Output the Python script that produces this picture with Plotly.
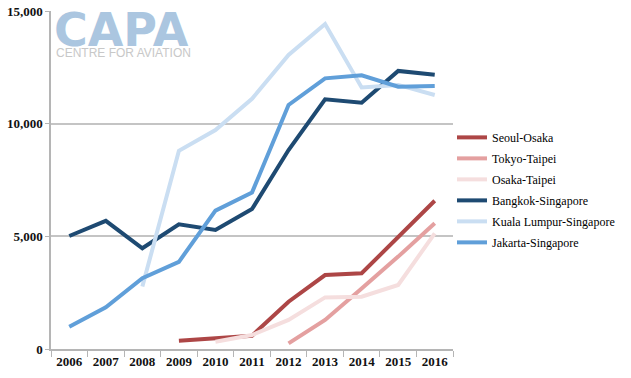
import plotly.graph_objects as go

years = ["2006", "2007", "2008", "2009", "2010", "2011", "2012", "2013", "2014", "2015", "2016"]

seoul_osaka = [None, None, None, 370, 475, 590, 2100, 3280, 3360, 4980, 6580]
tokyo_taipei = [None, None, None, None, None, None, 250, 1290, 2690, 4100, 5580]
osaka_taipei = [None, None, None, None, 325, 620, 1290, 2290, 2320, 2840, 5130]
bangkok_singapore = [5015, 5690, 4470, 5530, 5280, 6210, 8830, 11080, 10930, 12340, 12170]
kl_singapore = [None, None, 2770, 8800, 9720, 11100, 13050, 14420, 11610, 11720, 11270]
jakarta_singapore = [990, 1850, 3140, 3870, 6140, 6940, 10830, 12010, 12150, 11640, 11670]

series = [
    ("Seoul-Osaka", seoul_osaka, "#ad4646"),
    ("Tokyo-Taipei", tokyo_taipei, "#e4a0a0"),
    ("Osaka-Taipei", osaka_taipei, "#f5dede"),
    ("Bangkok-Singapore", bangkok_singapore, "#1e4a72"),
    ("Kuala Lumpur-Singapore", kl_singapore, "#cadef2"),
    ("Jakarta-Singapore", jakarta_singapore, "#609fd9"),
]

fig = go.Figure()
for name, vals, color in series:
    fig.add_trace(go.Scatter(
        x=years, y=vals, name=name, mode="lines",
        line=dict(color=color, width=4),
        connectgaps=False, legendgroup=name,
    ))

serif = "'Liberation Serif', 'DejaVu Serif', serif"

fig.update_layout(
    width=631, height=378,
    margin=dict(l=51, r=178, t=11, b=29),
    paper_bgcolor="white", plot_bgcolor="white",
    font=dict(family=serif, size=13, color="#111"),
    showlegend=True,
    legend=dict(
        x=0.9975, xanchor="left", y=0.669, yanchor="top",
        font=dict(family=serif, size=12, color="#000"),
        itemwidth=30, tracegroupgap=2,
        bgcolor="rgba(0,0,0,0)",
    ),
    xaxis=dict(
        type="category", range=[-0.5, 10.5],
        showgrid=False, showline=True, linecolor="#b5b5b5", linewidth=1.5,
        ticks="outside", tickson="boundaries", ticklen=6, tickcolor="#b5b5b5",
        tickangle=0, automargin=False, ticklabeloverflow="allow",
        tickfont=dict(family=serif, size=13, color="#111", weight="bold"),
    ),
    yaxis=dict(
        range=[0, 15000], tickvals=[0, 5000, 10000, 15000],
        ticktext=["0", "5,000", "10,000", "15,000"],
        showgrid=True, gridcolor="#c4c4c4", gridwidth=1.5,
        showline=True, linecolor="#b5b5b5", linewidth=1.5,
        ticks="outside", ticklen=4, tickcolor="#b5b5b5",
        zeroline=False, automargin=False, ticklabeloverflow="allow",
        tickfont=dict(family=serif, size=13, color="#111", weight="bold"),
    ),
)

fig.add_annotation(
    xref="paper", yref="paper", x=0.003, y=0.944, xanchor="left", yanchor="middle",
    text="<b>CAPA</b>", showarrow=False,
    font=dict(family="DejaVu Sans", size=46, color="#abc6e0"),
)
fig.add_annotation(
    xref="paper", yref="paper", x=0.008, y=0.877, xanchor="left", yanchor="middle",
    text="CENTRE FOR AVIATION", showarrow=False,
    font=dict(family="Liberation Sans", size=12, color="#c8c8c8"),
)

fig.write_html("out.html", config={"displayModeBar": False},
               post_script="document.body.style.margin='0';")
